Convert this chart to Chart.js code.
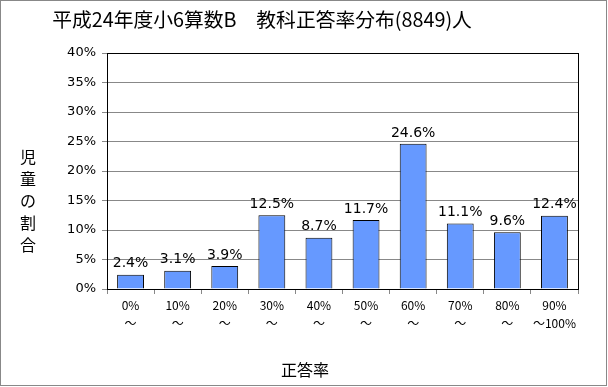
<!DOCTYPE html>
<html lang="ja">
<head>
  <meta charset="UTF-8">
  <title>正答率分布</title>
  <script src="https://cdn.jsdelivr.net/npm/chart.js"></script>
  <style>
    body { margin: 0; padding: 0; background: #fff; }
    #wrap { width: 608px; height: 387px; position: relative; }
  </style>
</head>
<body>
  <div id="wrap"><canvas id="chart"></canvas></div>
  <script>
    const categories = [['0%', '〜'], ['10%', '〜'], ['20%', '〜'], ['30%', '〜'], ['40%', '〜'],
      ['50%', '〜'], ['60%', '〜'], ['70%', '〜'], ['80%', '〜'], ['90%', '〜100%']];
    const shares = [2.4, 3.1, 3.9, 12.5, 8.7, 11.7, 24.6, 11.1, 9.6, 12.4];
    const titleText = '平成24年度小6算数B　教科正答率分布(8849)人';
    const yTitle = ['児', '童', 'の', '割', '合'];
    const xTitle = '正答率';

    const jp = '"Noto Sans CJK JP", sans-serif';

    const decorations = {
      id: 'decorations',
      afterDraw(chart) {
        const ctx = chart.ctx;
        const a = chart.chartArea;
        ctx.save();
        // outer frame
        ctx.strokeStyle = '#888';
        ctx.lineWidth = 1;
        ctx.strokeRect(0.5, 0.5, 606, 385);
        // plot border
        ctx.strokeStyle = '#000';
        ctx.strokeRect(Math.round(a.left) + 0.5, Math.round(a.top) + 0.5,
          Math.round(a.width), Math.round(a.height));
        // title, fitted to the reference width
        ctx.fillStyle = '#000';
        ctx.textAlign = 'center';
        ctx.textBaseline = 'middle';
        ctx.font = '20px ' + jp;
        const w = ctx.measureText(titleText).width;
        ctx.font = (20 * 421 / w).toFixed(1) + 'px ' + jp;
        ctx.fillText(titleText, 262, 19);
        // y title, vertical
        ctx.font = '16px ' + jp;
        yTitle.forEach((c, i) => ctx.fillText(c, 28, 157 + i * 22));
        // x title
        ctx.font = '16px ' + jp;
        ctx.fillText(xTitle, 305, 370);
        // value labels
        ctx.font = '14px "DejaVu Sans", sans-serif';
        ctx.textBaseline = 'bottom';
        const meta = chart.getDatasetMeta(0);
        meta.data.forEach((bar, i) => {
          ctx.fillText(shares[i].toFixed(1) + '%', bar.x, bar.y - 4);
        });
        ctx.restore();
      }
    };

    new Chart(document.getElementById('chart'), {
      type: 'bar',
      data: {
        labels: categories,
        datasets: [{
          data: shares,
          backgroundColor: '#6699FF',
          borderColor: '#000',
          borderWidth: 1,
          barPercentage: 0.57,
          categoryPercentage: 1
        }]
      },
      options: {
        responsive: true,
        maintainAspectRatio: false,
        animation: false,
        layout: { padding: { top: 53, left: 0, right: 30, bottom: 0 } },
        plugins: {
          legend: { display: false },
          tooltip: { enabled: false },
          title: { display: false }
        },
        scales: {
          x: {
            afterFit(scale) { scale.height = 98; },
            grid: { offset: true, drawOnChartArea: false, drawTicks: true, tickLength: 5, color: '#888' },
            border: { color: '#000' },
            ticks: {
              color: '#000',
              font: { family: jp, size: 12, lineHeight: 1.45 },
              padding: 3,
              maxRotation: 0,
              autoSkip: false
            }
          },
          y: {
            min: 0,
            max: 40,
            afterFit(scale) { scale.width = 107; },
            grid: { color: '#888', tickLength: 5 },
            border: { color: '#000' },
            ticks: {
              stepSize: 5,
              color: '#000',
              font: { family: '"DejaVu Sans", sans-serif', size: 13 },
              padding: 6,
              callback: v => v + '%'
            }
          }
        }
      },
      plugins: [decorations]
    });
  </script>
</body>
</html>
